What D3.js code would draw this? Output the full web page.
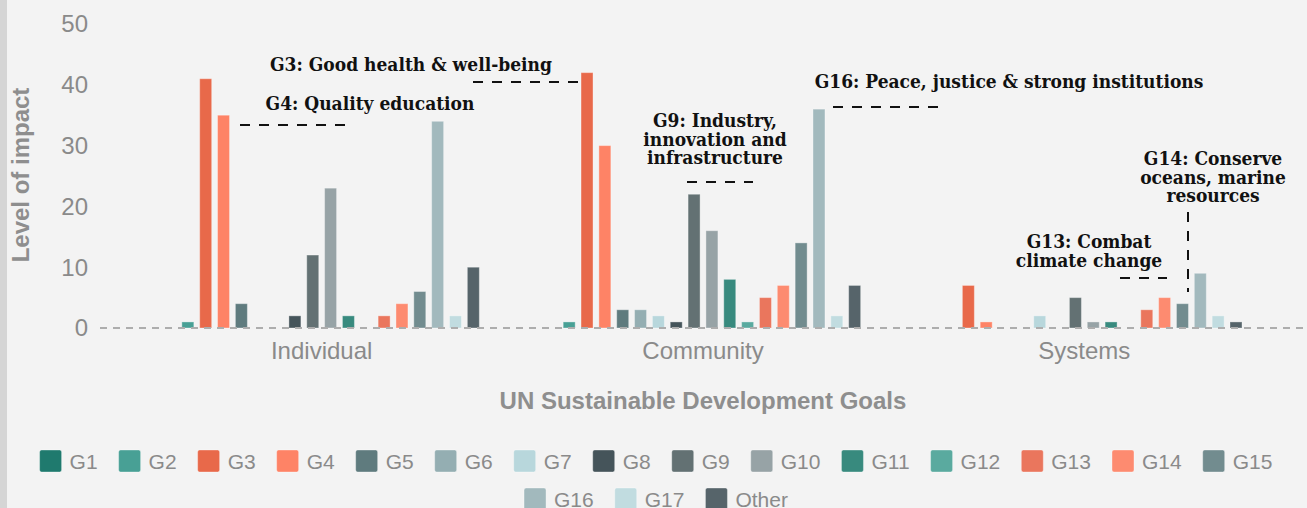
<!DOCTYPE html>
<html>
<head>
<meta charset="utf-8">
<script src="https://cdn.jsdelivr.net/npm/d3@7"></script>
<style>
  html, body { margin: 0; padding: 0; background: #f3f3f3; }
  svg { display: block; }
</style>
</head>
<body>
<div id="chart"></div>
<script>
// groups on the x axis
const categories = ["Individual", "Community", "Systems"];

// one entry per SDG series
const series = ["G1", "G2", "G3", "G4", "G5", "G6", "G7", "G8", "G9",
  "G10", "G11", "G12", "G13", "G14", "G15", "G16", "G17", "Other"];

const colors = ["#1f7a6e", "#48a095", "#e8694a", "#fe8366", "#5f7b7e", "#94aeb2",
  "#b8d7dc", "#45545a", "#637173", "#97a3a6", "#388a7e", "#5aaa9f",
  "#ea765d", "#fd8b70", "#728c8f", "#a2b9bd", "#c1dce0", "#56646a"];

// values per category, same order as series
const individual = [0, 1, 41, 35, 4, 0, 0, 2, 12, 23, 2, 0, 2, 4, 6, 34, 2, 10];
const community  = [0, 1, 42, 30, 3, 3, 2, 1, 22, 16, 8, 1, 5, 7, 14, 36, 2, 7];
const systems    = [0, 0, 7, 1, 0, 0, 2, 0, 5, 1, 1, 0, 3, 5, 4, 9, 2, 1];

const yTicks = [0, 10, 20, 30, 40, 50];

const width = 1307, height = 508;
const values = [individual, community, systems];

const svg = d3.select("#chart").append("svg")
  .attr("width", width)
  .attr("height", height);

svg.append("rect").attr("width", width).attr("height", height).attr("fill", "#f3f3f3");
svg.append("rect").attr("width", 7).attr("height", height).attr("fill", "#d5d5d5");

const sans = "'Liberation Sans', Arial, Helvetica, sans-serif";
const serif = "'DejaVu Serif Condensed', 'DejaVu Serif', Georgia, serif";

const y = d3.scaleLinear().domain([0, 50]).range([328, 24]);

const x0 = d3.scaleBand().domain(categories).range([131, 1275]);
const x1 = d3.scaleBand().domain(series).range([0, x0.bandwidth()])
  .paddingInner(0.328).paddingOuter(1.85);
const color = d3.scaleOrdinal().domain(series).range(colors);

// y axis labels (no line)
svg.append("g")
  .selectAll("text")
  .data(yTicks)
  .join("text")
  .attr("x", 88)
  .attr("y", d => y(d))
  .attr("dy", "0.35em")
  .attr("text-anchor", "end")
  .style("font-family", sans)
  .style("font-size", "24px")
  .style("fill", "#8a8a8a")
  .text(d => d);

// bars
const groups = svg.append("g")
  .selectAll("g")
  .data(categories)
  .join("g")
  .attr("transform", d => `translate(${x0(d)},0)`);

groups.selectAll("rect")
  .data((c, ci) => series.map((s, si) => ({ s, v: values[ci][si] })).filter(d => d.v > 0))
  .join("rect")
  .attr("x", d => x1(d.s))
  .attr("y", d => y(d.v))
  .attr("width", x1.bandwidth())
  .attr("height", d => y(0) - y(d.v))
  .attr("fill", d => color(d.s))
  .attr("stroke", "#ffffff")
  .attr("stroke-opacity", 0.35)
  .attr("stroke-width", 1);

// dashed baseline
svg.append("line")
  .attr("x1", 100).attr("x2", width)
  .attr("y1", y(0)).attr("y2", y(0))
  .attr("stroke", "#adadad")
  .attr("stroke-width", 2)
  .attr("stroke-dasharray", "7,6");

// category labels
svg.append("g")
  .selectAll("text")
  .data(categories)
  .join("text")
  .attr("x", d => x0(d) + x0.bandwidth() / 2)
  .attr("y", 359)
  .attr("text-anchor", "middle")
  .style("font-family", sans)
  .style("font-size", "24px")
  .style("fill", "#8a8a8a")
  .text(d => d);

// axis titles
svg.append("text")
  .attr("x", 703)
  .attr("y", 409)
  .attr("text-anchor", "middle")
  .style("font-family", sans)
  .style("font-size", "24px")
  .style("font-weight", "bold")
  .style("fill", "#8e8e8e")
  .text("UN Sustainable Development Goals");

svg.append("text")
  .attr("transform", "translate(29,175) rotate(-90)")
  .attr("text-anchor", "middle")
  .style("font-family", sans)
  .style("font-size", "24px")
  .style("font-weight", "bold")
  .style("fill", "#8e8e8e")
  .text("Level of impact");

// annotations
const notes = [
  { lines: ["G3: Good health & well-being"], x: 411, y: 71, line: [473, 82, 578, 82] },
  { lines: ["G4: Quality education"], x: 370, y: 110, line: [240, 125, 345, 125] },
  { lines: ["G16: Peace, justice & strong institutions"], x: 1009, y: 88, line: [833, 107, 940, 107] },
  { lines: ["G9: Industry,", "innovation and", "infrastructure"], x: 715, y: 127, line: [687, 182, 753, 182] },
  { lines: ["G13: Combat", "climate change"], x: 1089, y: 248, line: [1120, 278, 1167, 278] },
  { lines: ["G14: Conserve", "oceans, marine", "resources"], x: 1213, y: 165, line: [1188, 212, 1188, 292] }
];

const note = svg.append("g")
  .selectAll("g")
  .data(notes)
  .join("g");

note.append("text")
  .attr("text-anchor", "middle")
  .style("font-family", serif)
  .style("font-stretch", "condensed")
  .style("font-size", "19px")
  .style("font-weight", "bold")
  .style("fill", "#111")
  .selectAll("tspan")
  .data(d => d.lines.map((t, i) => ({ t, x: d.x, y: d.y + i * 18.5 })))
  .join("tspan")
  .attr("x", d => d.x)
  .attr("y", d => d.y)
  .text(d => d.t);

note.append("line")
  .attr("x1", d => d.line[0]).attr("y1", d => d.line[1])
  .attr("x2", d => d.line[2]).attr("y2", d => d.line[3])
  .attr("stroke", "#111")
  .attr("stroke-width", 2)
  .attr("stroke-dasharray", "10,9");

// legend, wrapped and centred
const legend = svg.append("g");
const items = legend.selectAll("g")
  .data(series)
  .join("g");

items.append("rect")
  .attr("width", 22).attr("height", 22)
  .attr("rx", 2)
  .attr("fill", d => color(d))
  .attr("stroke", "#ffffff")
  .attr("stroke-opacity", 0.35);

items.append("text")
  .attr("x", 30)
  .attr("y", 19)
  .style("font-family", sans)
  .style("font-size", "21px")
  .style("fill", "#8a8a8a")
  .text(d => d);

const maxRow = 1255;
const rows = [[]];
let rowW = 0;
items.each(function(d) {
  const w = 22 + 8 + this.querySelector("text").getComputedTextLength() + 21;
  if (rowW + w > maxRow && rows[rows.length - 1].length) {
    rows.push([]);
    rowW = 0;
  }
  rows[rows.length - 1].push({ node: this, w });
  rowW += w;
});

rows.forEach((row, ri) => {
  const total = d3.sum(row, r => r.w) - 21;
  let cx = 656 - total / 2;
  row.forEach(r => {
    d3.select(r.node).attr("transform", `translate(${cx},${450 + ri * 38})`);
    cx += r.w;
  });
});
</script>
</body>
</html>
